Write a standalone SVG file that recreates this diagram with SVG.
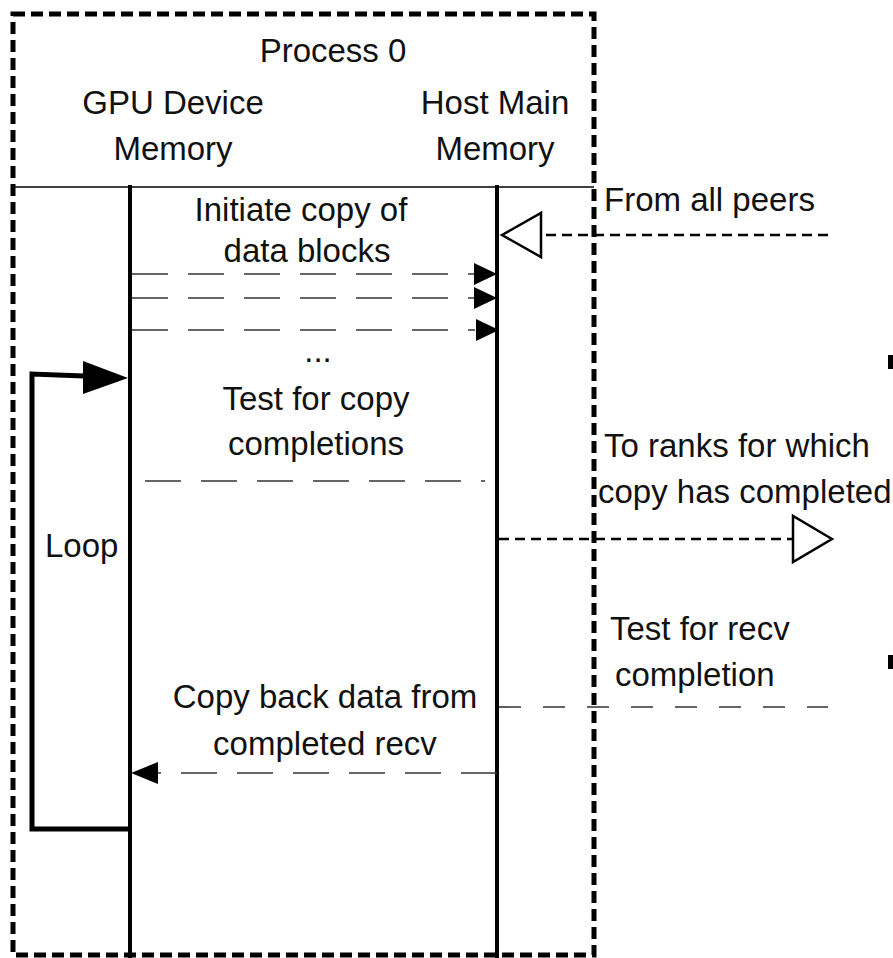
<svg xmlns="http://www.w3.org/2000/svg" width="893" height="958" viewBox="0 0 893 958">
<style>
text{font-family:"Liberation Sans",Arial,sans-serif;font-size:33px;fill:#111}
.c{text-anchor:middle}
.life{stroke:#000;stroke-width:4;fill:none}
.long{stroke:#333;stroke-width:1.6;stroke-dasharray:36 20;fill:none}
.short{stroke:#000;stroke-width:2.5;stroke-dasharray:10 6;fill:none}
.fill{fill:#000}
.open{fill:#fff;stroke:#000;stroke-width:2.5}
</style>
<rect width="893" height="958" fill="#fff"/>
<g id="process0">
<rect x="13" y="14" width="581" height="941" fill="none" stroke="#000" stroke-width="5" stroke-dasharray="12 6"/>
<line x1="13" y1="187" x2="594" y2="187" stroke="#000" stroke-width="1.5"/>
<text class="c" x="333" y="62">Process 0</text>
</g>
<g id="gpu">
<text class="c" x="173" y="114">GPU Device</text>
<text class="c" x="173" y="160">Memory</text>
<line class="life" x1="130" y1="185" x2="130" y2="958"/>
</g>
<g id="host">
<text class="c" x="495" y="114">Host Main</text>
<text class="c" x="495" y="160">Memory</text>
<line class="life" x1="497" y1="185" x2="497" y2="958"/>
</g>
<g id="connectors">
<line class="short" x1="828" y1="235" x2="541" y2="235"/>
<polygon class="open" points="502,235 541,213 541,257"/>
<line class="long" x1="132" y1="274" x2="475" y2="274"/>
<polygon class="fill" points="497,274 474,263 474,285"/>
<line class="long" x1="132" y1="298" x2="475" y2="298"/>
<polygon class="fill" points="497,298 474,287 474,309"/>
<line class="long" x1="132" y1="330" x2="475" y2="330"/>
<polygon class="fill" points="499,330 476,319 476,341"/>
<path d="M128,829 L32,829 L32,374 L84,376" fill="none" stroke="#000" stroke-width="5" stroke-linejoin="miter"/>
<polygon class="fill" points="128,378 83,361 83,394"/>
<line class="long" x1="145" y1="481" x2="485" y2="481"/>
<line class="short" x1="499" y1="539" x2="793" y2="539"/>
<polygon class="open" points="832,539 793,516 793,562"/>
<line class="long" x1="499" y1="707" x2="828" y2="707" style="stroke-dasharray:22 22"/>
<line class="long" x1="497" y1="773" x2="158" y2="773"/>
<polygon class="fill" points="131,773 158,762 158,784"/>
</g>
<g id="labels">
<text class="c" x="301" y="221">Initiate copy of</text>
<text class="c" x="307" y="262">data blocks</text>
<text class="c" x="318" y="362">...</text>
<text class="c" x="316" y="410">Test for copy</text>
<text class="c" x="316" y="455">completions</text>
<text x="604" y="211">From all peers</text>
<text x="604" y="457">To ranks for which</text>
<text x="598" y="503">copy has completed</text>
<text x="45" y="557">Loop</text>
<text x="610" y="640">Test for recv</text>
<text x="615" y="686">completion</text>
<text class="c" x="325" y="708">Copy back data from</text>
<text class="c" x="325" y="755">completed recv</text>
</g>
<rect x="888" y="355" width="5" height="14" fill="#000"/>
<rect x="888" y="655" width="5" height="14" fill="#000"/>
</svg>
